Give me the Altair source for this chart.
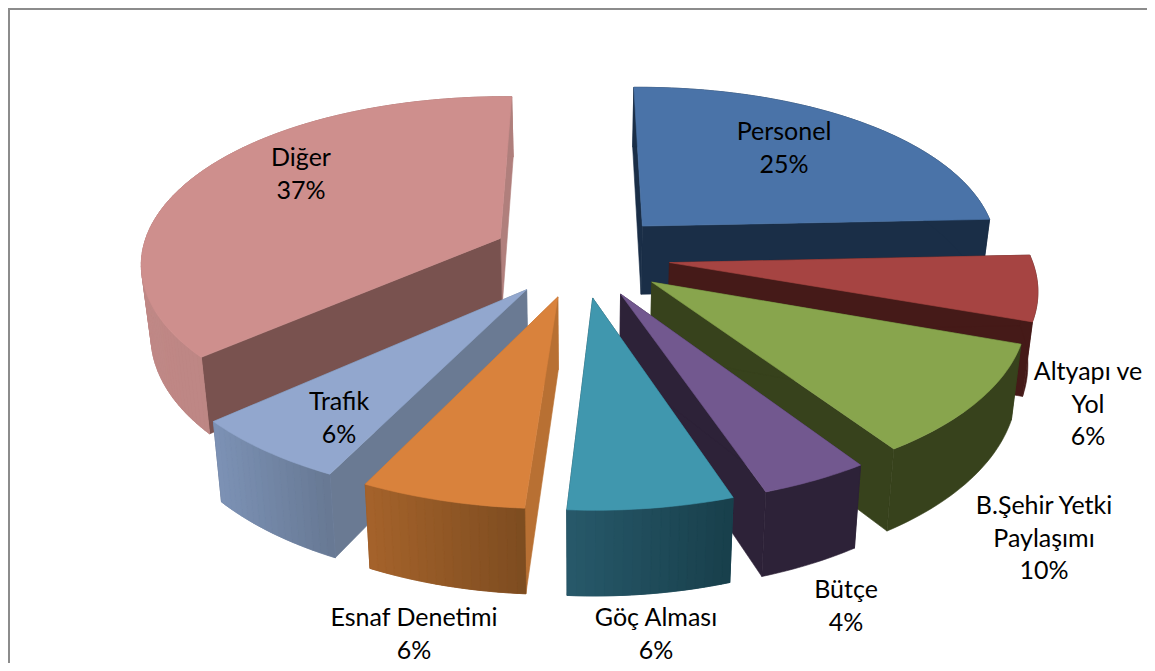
import math
import altair as alt
import pandas as pd

# --- values ---
names = ["Personel", "Altyapı ve Yol", "B.Şehir Yetki Paylaşımı", "Bütçe", "Göç Alması", "Esnaf Denetimi", "Trafik", "Diğer"]
shares = [25, 6, 10, 4, 6, 6, 6, 37]
label_lines = [["Personel", "25%"], ["Altyapı ve", "Yol", "6%"], ["B.Şehir Yetki", "Paylaşımı", "10%"],
               ["Bütçe", "4%"], ["Göç Alması", "6%"], ["Esnaf Denetimi", "6%"], ["Trafik", "6%"], ["Diğer", "37%"]]
label_x = [784, 1088, 1044, 846, 656, 414, 339, 301]
label_y = [132, 372, 506, 590, 618, 618, 402, 158]
line_gap = 32.5

# --- styles ---
top_colors = ["#4A73A8", "#A64442", "#88A54D", "#72588F", "#4097AE", "#D9823C", "#92A7CE", "#CE8F8D"]
wall_left = ["#1A2E47", "#451A18", "#37421C", "#2D2238", "#27596A", "#A5632B", "#7C92B5", "#C08886"]
wall_right = ["#1A2E47", "#451A18", "#37421C", "#2D2238", "#183F4B", "#7D4C20", "#677893", "#AF7F7C"]
cut_start = ["#1A2E47", "#451A18", "#37421C", "#2D2238", "#183F4B", "#B87033", "#6A7A93", "#79524F"]
cut_end = ["#1A2E47", "#451A18", "#37421C", "#2D2238", "#183F4B", "#B87033", "#6A7A93", "#B07F7C"]
paint_order = [0, 7, 1, 2, 6, 3, 5, 4]

# --- view of the tilted disc ---
CX, CY = 581, 255
RX, RY = 357.5, 167
PERSP = 0.147
PERSP_X = 0.167
EXPLODE = 0.25
DEPTH = 70
LEAN = 0.022
BOW = 5


def project(u, v, low=False):
    f = 1 / (1 + PERSP * v)
    x = CX + RX * u / (1 + PERSP_X * v)
    y = CY - RY * v * f - BOW * u * u
    if low:
        y += DEPTH * f
        x = CX + (x - CX) * (1 - LEAN)
    return x, y


def mix(a, b, t):
    ca = [int(a[i:i + 2], 16) for i in (1, 3, 5)]
    cb = [int(b[i:i + 2], 16) for i in (1, 3, 5)]
    return "#" + "".join(f"{round(p + (q - p) * t):02X}" for p, q in zip(ca, cb))


rows = []
pid = 0


def add_poly(points, color):
    global pid
    pts = points + [points[0]]
    for s, (x, y) in enumerate(pts):
        rows.append({"poly": f"p{pid:04d}", "seq": s, "x": x, "y": y, "color": color})
    pid += 1


cum = [0]
for s in shares:
    cum.append(cum[-1] + s)

for i in paint_order:
    a0 = 2 * math.pi * cum[i] / 100
    a1 = 2 * math.pi * cum[i + 1] / 100
    mid = (a0 + a1) / 2
    ou, ov = EXPLODE * math.sin(mid), EXPLODE * math.cos(mid)
    n = max(16, int(shares[i] * 3))
    rim = [(ou + math.sin(a0 + (a1 - a0) * k / n), ov + math.cos(a0 + (a1 - a0) * k / n)) for k in range(n + 1)]
    apex = (ou, ov)
    # cut faces: the hidden end first, the visible one after it
    add_poly([project(*apex), project(*rim[-1]), project(*rim[-1], True), project(*apex, True)], cut_end[i])
    add_poly([project(*apex), project(*rim[0]), project(*rim[0], True), project(*apex, True)], cut_start[i])
    # outer wall: one base shape, then bands from left to right when it is shaded
    xs_rim = [project(*p)[0] for p in rim]
    lo, hi = min(xs_rim), max(xs_rim)
    base = [project(*p) for p in rim] + [project(*p, True) for p in reversed(rim)]
    add_poly(base, mix(wall_left[i], wall_right[i], 0.5))
    if wall_left[i] != wall_right[i]:
        for k in range(n):
            t = ((xs_rim[k] + xs_rim[k + 1]) / 2 - lo) / (hi - lo)
            c = mix(wall_left[i], wall_right[i], t)
            add_poly([project(*rim[k]), project(*rim[k + 1]), project(*rim[k + 1], True), project(*rim[k], True)], c)
    # top face
    add_poly([project(*apex)] + [project(*p) for p in rim], top_colors[i])

df = pd.DataFrame(rows)

text_rows = []
for lines, lx, ly in zip(label_lines, label_x, label_y):
    for j, t in enumerate(lines):
        text_rows.append({"t": t, "x": lx, "y": ly + j * line_gap})
tdf = pd.DataFrame(text_rows)

W, H = 1139, 655
xs = alt.Scale(domain=[8, 8 + W], range=[0, W], nice=False, zero=False)
ys = alt.Scale(domain=[8, 8 + H], range=[0, H], nice=False, zero=False)

polys = alt.Chart(df).mark_line(strokeWidth=0.6, strokeJoin="round", interpolate="linear", clip=False).encode(
    x=alt.X("x:Q", scale=xs, axis=None),
    y=alt.Y("y:Q", scale=ys, axis=None),
    detail="poly:N",
    order="seq:Q",
    fill=alt.Fill("color:N", scale=None),
    stroke=alt.Stroke("color:N", scale=None),
)

labels = alt.Chart(tdf).mark_text(font="Lato", fontSize=25, color="#000000", align="center", baseline="middle").encode(
    x=alt.X("x:Q", scale=xs, axis=None),
    y=alt.Y("y:Q", scale=ys, axis=None),
    text="t:N",
)

frame_top = alt.Chart(pd.DataFrame({"a": [9]})).mark_rule(color="#8C8C8C", strokeWidth=2).encode(
    y=alt.Y("a:Q", scale=ys, axis=None), x=alt.value(0), x2=alt.value(W))
frame_left = alt.Chart(pd.DataFrame({"a": [9]})).mark_rule(color="#8C8C8C", strokeWidth=2).encode(
    x=alt.X("a:Q", scale=xs, axis=None), y=alt.value(0), y2=alt.value(H))

chart = alt.layer(frame_top, frame_left, polys, labels).properties(
    width=W, height=H, padding=0, autosize=alt.AutoSizeParams(type="none"), background="#FFFFFF"
).configure_view(stroke=None)

chart.save("out.html", embed_options={"renderer": "svg", "actions": False})
